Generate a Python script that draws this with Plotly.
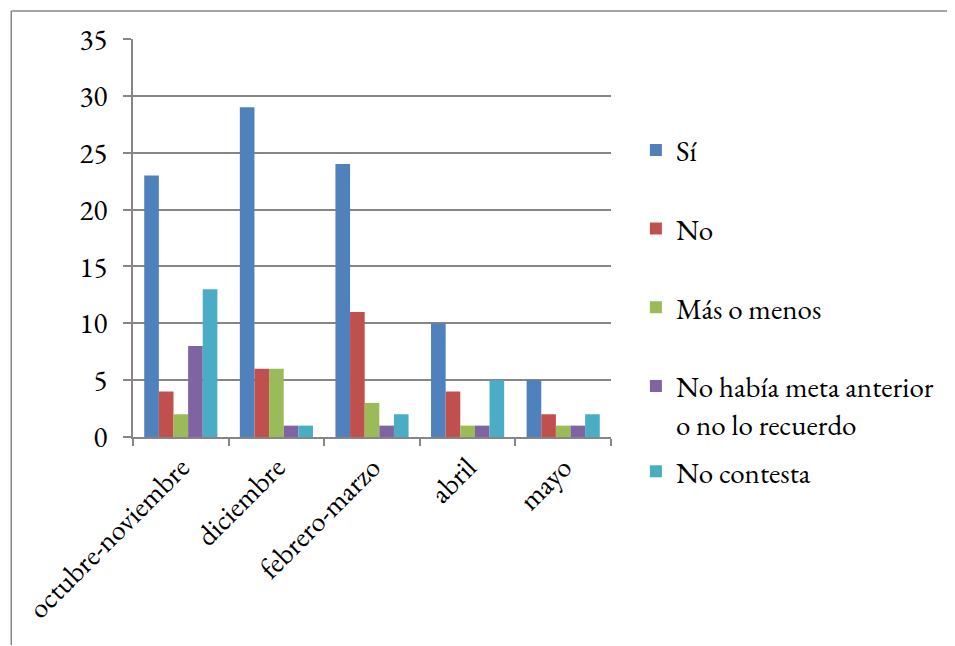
import plotly.graph_objects as go

categories = ["octubre-noviembre", "diciembre", "febrero-marzo", "abril", "mayo"]
series_names = ["Sí", "No", "Más o menos", "No había meta anterior<br>o no lo recuerdo", "No contesta"]
si = [23, 29, 24, 10, 5]
no = [4, 6, 11, 4, 2]
mas_o_menos = [2, 6, 3, 1, 1]
no_habia = [8, 1, 1, 1, 1]
no_contesta = [13, 1, 2, 5, 2]
values = [si, no, mas_o_menos, no_habia, no_contesta]
colors = ["#4F81BD", "#C0504D", "#9BBB59", "#8064A2", "#4BACC6"]

FONT = "EB Garamond"
FS = 29
OFF = 8  # page body margin
W, H = 955 - OFF, 646 - OFF
# plot area in screenshot pixels
L, R, T, B = 131, 611, 37, 437

fig = go.Figure()
for i, (name, vals, col) in enumerate(zip(series_names, values, colors)):
    fig.add_trace(go.Bar(
        x=categories, y=vals, name=name,
        marker=dict(color=col, line=dict(width=0)),
        legendgroup=f"g{i}",
        legend="legend2" if i == 4 else "legend",
    ))

def px_x(px):
    return (px - L) / (R - L)

def px_y(py):
    return (B - py) / (B - T)

fig.update_layout(
    width=W, height=H,
    margin=dict(l=L - OFF, r=955 - R, t=T - OFF, b=646 - B, pad=0),
    paper_bgcolor="white", plot_bgcolor="white",
    font=dict(family=FONT, size=FS, color="#000000"),
    barmode="group", bargap=0.235, bargroupgap=0,
    showlegend=True,
    legend=dict(
        x=px_x(636), y=px_y(123), xanchor="left", yanchor="top",
        traceorder="grouped", tracegroupgap=38, valign="top",
        font=dict(family=FONT, size=FS), itemwidth=30,
        bgcolor="rgba(0,0,0,0)",
    ),
    legend2=dict(
        x=px_x(636), y=px_y(446), xanchor="left", yanchor="top",
        valign="top", font=dict(family=FONT, size=FS), itemwidth=30,
        bgcolor="rgba(0,0,0,0)",
    ),
    xaxis=dict(
        tickangle=-45, showline=True, linecolor="#868686", linewidth=1.5,
        ticks="outside", tickson="boundaries", ticklen=7, tickcolor="#868686",
        tickwidth=1.5, showgrid=False, tickfont=dict(family=FONT, size=FS),
    ),
    yaxis=dict(
        range=[0, 35], dtick=5, showline=True, linecolor="#868686", linewidth=1.5,
        ticks="outside", ticklen=8, tickcolor="#868686", tickwidth=1.5,
        showgrid=True, gridcolor="#868686", gridwidth=1.5, zeroline=False,
        tickfont=dict(family=FONT, size=FS), ticklabelstandoff=10,
    ),
    shapes=[
        dict(type="line", xref="paper", yref="paper",
             x0=px_x(8.75), y0=px_y(646), x1=px_x(8.75), y1=px_y(8.75),
             line=dict(color="#868686", width=1.5)),
        dict(type="line", xref="paper", yref="paper",
             x0=px_x(8.75), y0=px_y(8.75), x1=px_x(955), y1=px_y(8.75),
             line=dict(color="#868686", width=1.5)),
    ],
)

fig.write_html("out.html")
